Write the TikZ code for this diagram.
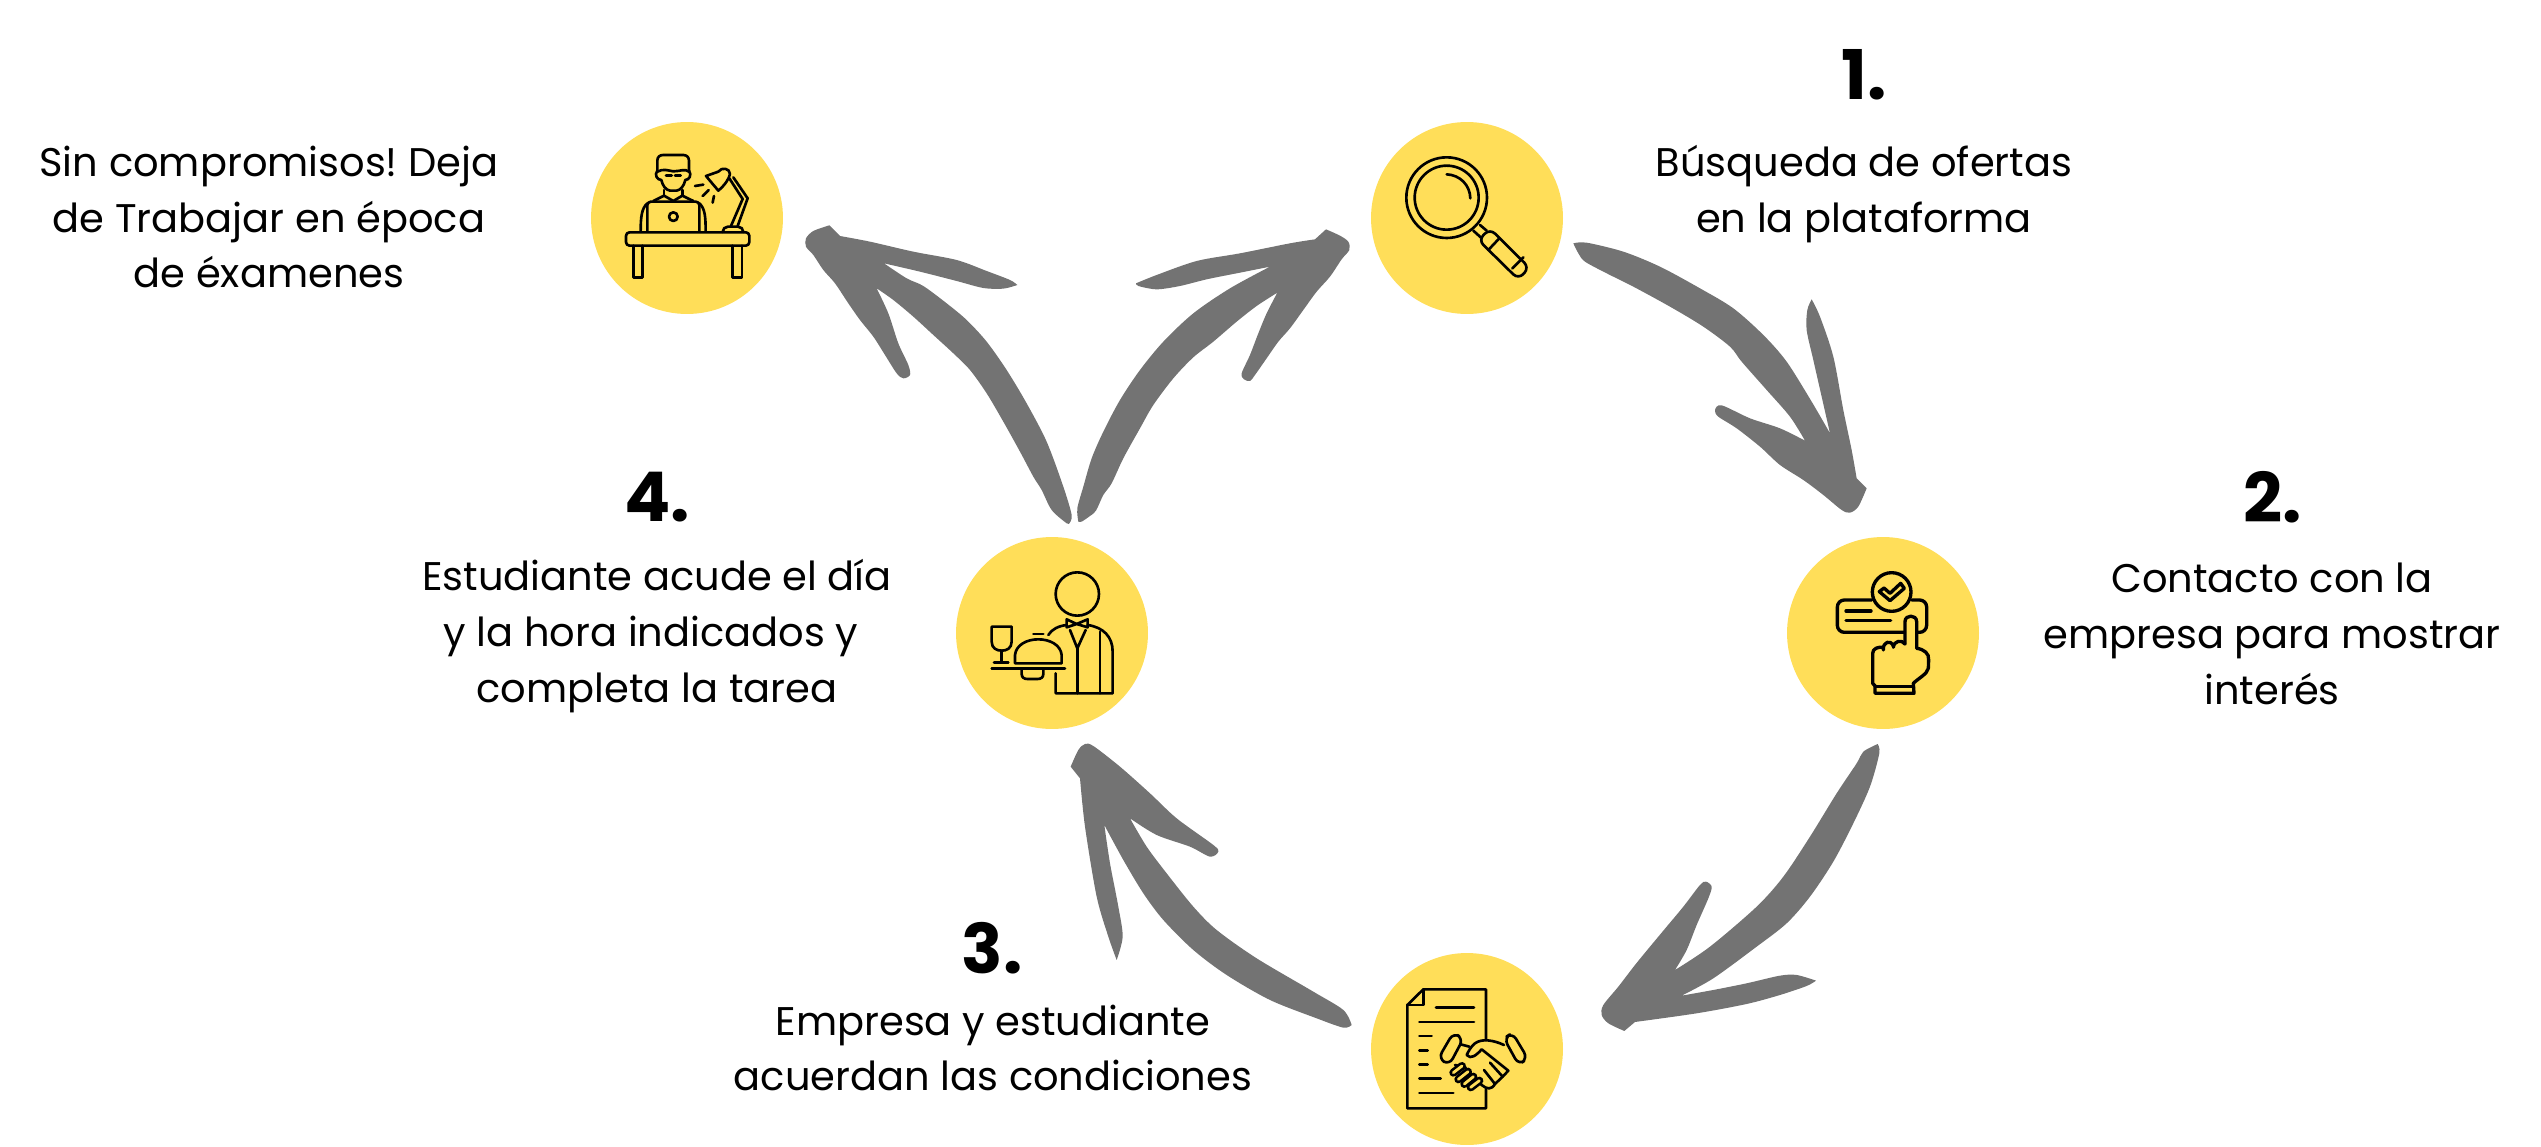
\documentclass[tikz,border=0pt]{standalone}
\usepackage{fontspec}
\setmainfont{Poppins}
\frenchspacing
\definecolor{discyellow}{HTML}{FFDE59}
\definecolor{brushgrey}{HTML}{737373}
\tikzset{
  disc/.style={circle, fill=discyellow, minimum size=3.84cm, inner sep=0pt},
  bodytext/.style={align=center, font=\fontsize{22.75}{31.7}\selectfont, inner sep=0pt},
  steplabel/.style={font=\fontsize{39}{44}\selectfont\bfseries, inner sep=0pt},
  brush/.style={fill=brushgrey},
  icon/.style={line width=1.5pt, line cap=round, line join=round},
  zoomed/.style={shift={#1}, scale=0.3333},
}
\begin{document}
\begin{tikzpicture}[x=0.02cm, y=-0.02cm]
\useasboundingbox (0,0) rectangle (2541,1146);

% Discs
\foreach \name/\x/\y in {discdesk/687/218, discsearch/1467/218, disccontact/1883/633, discdeal/1467/1049, discwaiter/1052/633}
  \node[disc] (\name) at (\x,\y) {};

% Step numbers
\node[steplabel] (numone) at (1864,75) {1.};
\node[steplabel] (numtwo) at (2273,497) {2.};
\node[steplabel] (numthree) at (992,948) {3.};
\node[steplabel] (numfour) at (657,497) {4.};

% Texts
\node[bodytext] (txtsearch) at (1864,194) {Búsqueda de ofertas\\en la plataforma};
\node[bodytext] (txtcontact) at (2272,634) {Contacto con la\\empresa para mostrar\\interés};
\node[bodytext] (txtdeal) at (993,1048) {Empresa y estudiante\\acuerdan las condiciones};
\node[bodytext] (txtwaiter) at (657,636) {Estudiante acude el día\\y la hora indicados y\kern0.3em\\completa la tarea};
\node[bodytext] (txtdesk) at (269,217) {Sin compromisos! Deja\\de Trabajar en época\\de éxamenes};

% Brush arrows
\begin{scope}[zoomed={(1040,200)}]
\fill[brush] plot[smooth] coordinates {(115,965) (112,925) (130,860) (155,775) (190,695) (240,600) (300,510) (370,425) (460,340) (570,265) (690,200)}
 -- plot[smooth] coordinates {(690,200) (600,218) (500,238) (420,258) (350,268) (295,258) (288,250)}
 -- plot[smooth] coordinates {(288,250) (350,225) (470,183) (600,160) (750,130) (825,118)}
 -- plot[smooth] coordinates {(858,88) (900,107) (925,125) (928,150) (905,178) (870,230) (830,275) (790,330) (750,385) (715,425) (680,475) (645,525) (630,543) (612,538) (605,520) (630,465) (655,400) (680,340) (712,278)}
 -- plot[smooth] coordinates {(712,278) (650,318) (590,365) (520,425) (460,472) (400,535) (340,615) (300,685) (250,775) (215,850) (190,885) (168,932) (150,948) (125,965) (115,965)} -- cycle;
\end{scope}
\begin{scope}[zoomed={(780,200)}]
\fill[brush] plot[smooth] coordinates {(868,970) (875,945) (850,860) (800,725) (740,610) (680,510) (620,425) (560,360) (500,310) (430,258) (380,235) (312,190)}
 -- plot[smooth] coordinates {(312,190) (420,215) (530,243) (610,264) (670,266) (712,255)}
 -- plot[smooth] coordinates {(712,255) (690,240) (620,213) (530,180) (400,155) (270,125) (180,108)}
 -- plot[smooth] coordinates {(148,76) (100,93) (78,115) (78,140) (100,165) (130,210) (165,250) (205,310) (240,360) (280,410) (315,465) (350,520) (370,535) (390,525) (385,495) (355,430) (325,340) (290,265)}
 -- plot[smooth] coordinates {(290,265) (340,300) (400,350) (460,405) (520,460) (570,510) (620,580) (670,665) (720,755) (760,830) (785,870) (815,930) (860,970) (868,970)} -- cycle;
\end{scope}
\begin{scope}[zoomed={(1550,220)}]
\fill[brush] plot[smooth] coordinates {(70,70) (110,68) (220,95) (330,140) (450,205) (550,265) (640,345) (710,425) (785,545) (840,640)}
 -- plot[smooth] coordinates {(840,640) (815,530) (790,420) (770,330) (772,270) (785,238)}
 -- plot[smooth] coordinates {(785,238) (810,290) (850,410) (880,570) (905,690) (920,775)}
 -- plot[smooth] coordinates {(950,805) (925,860) (900,878) (875,870) (820,825) (760,780) (690,735) (630,680) (560,625) (505,590) (495,570) (515,556) (600,595) (690,625) (765,662)}
 -- plot[smooth] coordinates {(765,662) (720,590) (650,510) (575,425) (540,380) (460,320) (360,260) (250,200) (170,160) (105,125) (85,100) (70,70)} -- cycle;
\end{scope}
\begin{scope}[zoomed={(1580,730)}]
\fill[brush] plot[smooth] coordinates {(893,42) (898,70) (870,170) (820,280) (760,395) (690,500) (620,580) (530,650) (400,745) (305,797)}
 -- plot[smooth] coordinates {(305,797) (400,780) (500,760) (600,737) (650,735) (708,752)}
 -- plot[smooth] coordinates {(708,752) (680,768) (600,795) (500,822) (350,850) (165,876)}
 -- plot[smooth] coordinates {(133,903) (85,880) (65,855) (70,825) (115,770) (165,705) (210,650) (260,590) (310,530) (360,465) (378,455) (395,470) (385,505) (350,585) (320,660) (285,720)}
 -- plot[smooth] coordinates {(285,720) (390,650) (530,530) (610,440) (690,320) (770,190) (830,100) (850,65) (893,42)} -- cycle;
\end{scope}
\begin{scope}[zoomed={(1050,730)}]
\fill[brush] plot[smooth] coordinates {(905,885) (880,840) (790,785) (620,685) (500,600) (430,530) (350,430) (290,350) (240,265)}
 -- plot[smooth] coordinates {(240,265) (320,315) (420,350) (480,380) (505,365) (490,345) (380,265) (300,190) (210,110) (130,48) (105,42) (85,60) (62,110)}
 -- plot[smooth] coordinates {(90,145) (105,290) (140,500) (175,620) (200,690)}
 -- plot[smooth] coordinates {(200,690) (218,620) (205,530) (180,400) (163,285)}
 -- plot[smooth] coordinates {(163,285) (220,390) (280,490) (340,570) (430,660) (530,735) (660,810) (800,865) (880,893) (905,885)} -- cycle;
\end{scope}

% Desk icon
\begin{scope}[zoomed={(570,100)}, icon]
\draw (262,215) -- (262,182) .. controls (262,170) and (270,165) .. (280,165) -- (340,165) .. controls (350,165) and (357,172) .. (357,182) -- (357,215);
\draw (262,215) .. controls (280,205) and (295,212) .. (310,214) .. controls (330,214) and (345,205) .. (357,215);
\draw (262,212) .. controls (252,225) and (262,240) .. (274,240) .. controls (278,258) and (288,270) .. (300,272) -- (320,272) .. controls (332,270) and (342,258) .. (346,240) .. controls (358,240) and (366,225) .. (357,212);
\draw (288,227) -- (305,227) (315,227) -- (332,227);
\draw (282,270) -- (282,287) (337,270) -- (337,287);
\draw (250,303) -- (282,287) -- (310,303) -- (337,287) -- (370,303);
\draw[rounded corners=2pt] (232,395) -- (232,305) -- (388,305) -- (388,395);
\draw (310,350) circle (13);
\draw (232,310) .. controls (215,325) and (212,350) .. (212,395);
\draw (388,310) .. controls (405,325) and (407,350) .. (407,395);
\draw[rounded corners=2pt, fill=discyellow] (168,397) rectangle (538,437);
\draw (190,437) -- (190,533) -- (218,533) -- (218,437);
\draw (487,437) -- (487,533) -- (516,533) -- (516,437);
% Lamp
\draw[rounded corners=3pt] (458,395) -- (458,380) -- (520,380) -- (520,395);
\draw (483,378) -- (518,297) -- (478,235);
\draw (503,378) -- (533,295) -- (490,232);
\draw (408,228) -- (445,215) .. controls (455,200) and (480,205) .. (480,222) .. controls (478,235) and (465,255) .. (445,272) -- cycle;
\draw (375,258) -- (400,254) (398,288) -- (416,270) (428,308) -- (432,288);
\end{scope}

% Search icon
\begin{scope}[zoomed={(1350,100)}, icon]
\draw (290,293) circle (121);
\draw (290,293) circle (96);
\draw (290,223) .. controls (330,225) and (360,255) .. (361,295);
\draw (370,392) -- (392,412) (390,375) -- (410,392);
\draw[rounded corners=4pt] (385,420) -- (420,386) -- (538,503) -- (505,538) -- cycle;
\draw (415,450) -- (447,416) (487,505) -- (520,472);
\end{scope}

% Contact icon
\begin{scope}[zoomed={(1770,520)}, icon, line width=1.9pt]
\draw (365,216) circle (58);
\draw (328,215) -- (342,204) -- (360,220) -- (392,190) -- (403,205) -- (360,242) -- cycle;
\draw[rounded corners=4pt] (305,240) -- (202,240) -- (202,337) -- (403,337);
\draw[rounded corners=4pt] (425,240) -- (470,240) -- (470,337) -- (442,337);
\draw (228,273) -- (303,273) (228,302) -- (362,302);
\draw (405,372) -- (405,305) .. controls (405,283) and (440,283) .. (440,305) -- (440,385) .. controls (462,388) and (478,400) .. (476,420) -- (475,445) .. controls (472,462) and (445,475) .. (430,490) -- (432,520) -- (315,520) -- (315,497) -- (308,490) -- (308,400) .. controls (308,385) and (325,380) .. (340,382);
\draw (340,390) .. controls (338,365) and (362,358) .. (370,378);
\draw (370,382) .. controls (372,362) and (395,358) .. (405,372);
\draw (315,500) -- (430,500);
\end{scope}

% Deal icon
\begin{scope}[zoomed={(1350,930)}, icon]
\draw (408,330) -- (408,178) -- (220,178) -- (172,225) -- (172,535) -- (408,535) -- (408,478);
\draw (172,225) -- (220,225) -- (220,178);
\draw (258,233) -- (372,233) (208,276) -- (372,276) (208,318) -- (245,318) (208,361) -- (233,361) (208,403) -- (233,403) (208,446) -- (272,446) (208,489) -- (310,489);
\draw[rounded corners=4pt] (310,308) -- (340,326) -- (298,405) -- (265,385) -- cycle;
\draw[rounded corners=4pt] (462,325) -- (487,308) -- (533,385) -- (506,405) -- cycle;
\draw (332,343) -- (358,350);
\draw (462,345) .. controls (430,330) and (395,325) .. (375,340) .. controls (362,350) and (355,365) .. (350,375) .. controls (362,390) and (380,375) .. (395,358) -- (475,422) -- (458,440) -- (420,398);
\draw (458,440) -- (435,462) -- (402,420) (435,462) .. controls (425,480) and (410,478) .. (395,465);
\draw (315,405) -- (345,412) -- (395,465);
% Fingers
\foreach \a/\b/\c/\d in {310/428/336/408, 325/448/354/425, 343/462/370/440, 362/472/388/452} {
  \draw[line width=4.6pt] (\a,\b) -- (\c,\d);
  \draw[discyellow, line width=1.6pt] (\a,\b) -- (\c,\d);
}
\end{scope}

% Waiter icon
\begin{scope}[zoomed={(940,520)}, icon]
\draw (412,222) circle (65);
\draw (380,298) -- (410,312) -- (443,298) -- (443,322) -- (410,312) -- (380,322) -- cycle;
\draw (390,330) -- (412,385) -- (437,330);
\draw (412,385) -- (412,520);
\draw (325,345) .. controls (335,328) and (355,318) .. (380,315);
\draw (443,315) .. controls (490,322) and (518,350) .. (518,395) -- (518,520) -- (347,520) -- (347,460);
\draw (480,335) -- (480,520);
\draw (155,320) -- (215,320) -- (215,365) .. controls (215,385) and (200,392) .. (185,392) .. controls (170,392) and (155,385) .. (155,365) -- cycle;
\draw (185,392) -- (185,427) (162,427) -- (205,427);
\draw (155,445) -- (375,445);
\draw (225,430) -- (225,405) .. controls (228,375) and (260,358) .. (295,358) .. controls (330,358) and (362,375) .. (365,405) -- (365,430) -- cycle;
\draw (280,342) -- (310,342);
\draw (245,450) -- (245,462) .. controls (245,472) and (252,477) .. (262,477) -- (293,477) .. controls (303,477) and (310,472) .. (310,462) -- (310,450);
\end{scope}
\end{tikzpicture}
\end{document}
